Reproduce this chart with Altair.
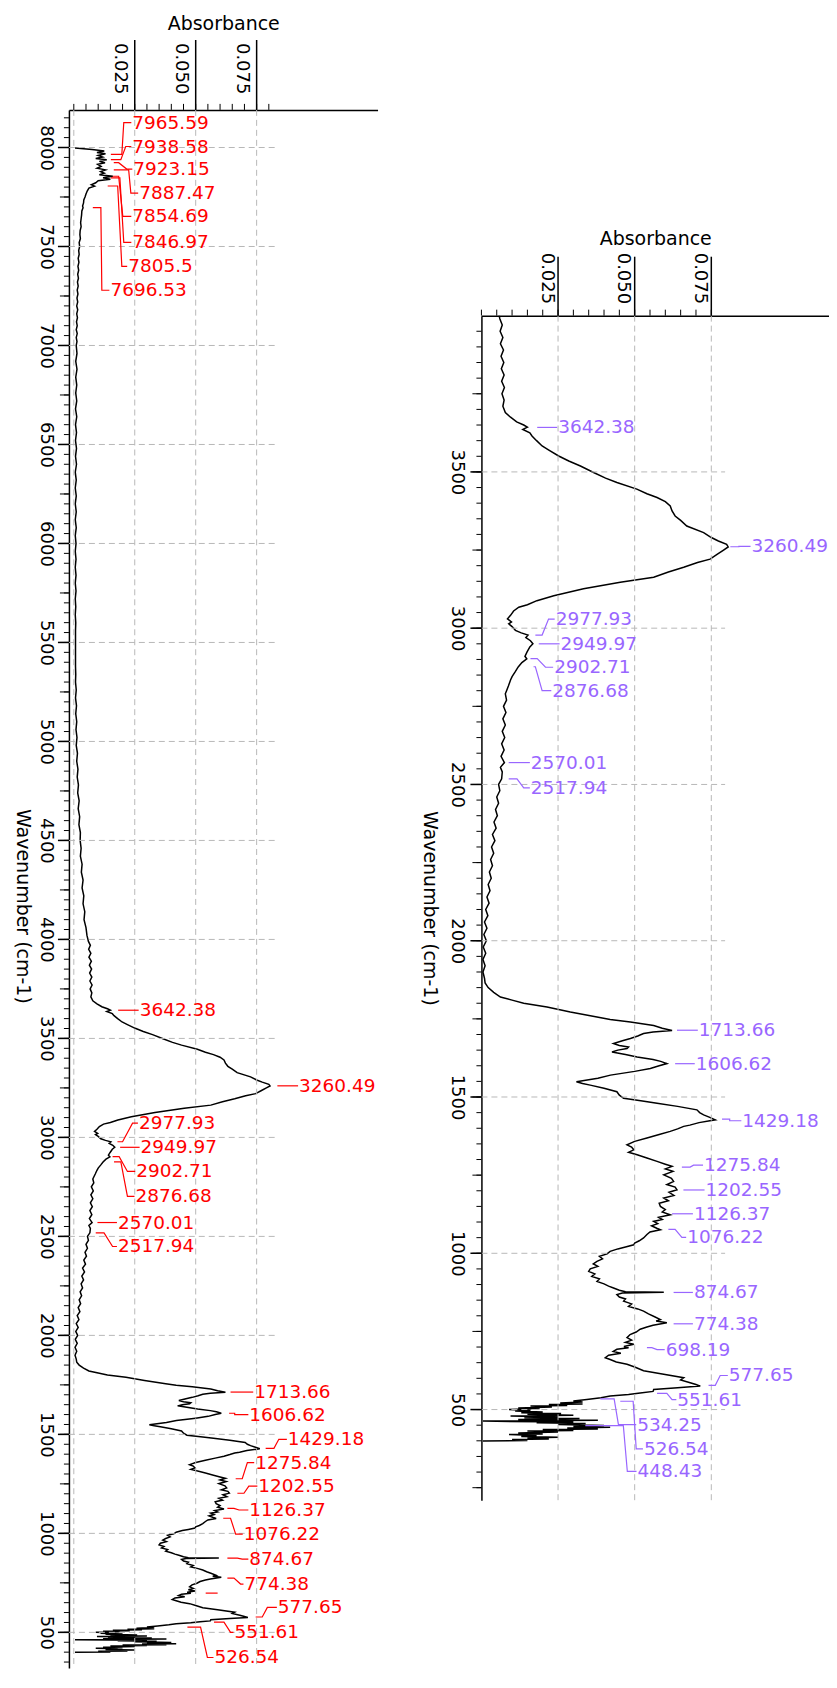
import altair as alt
import pandas as pd

FONT = "DejaVu Sans"
RED = "#FF0000"
PURPLE = "#9966FF"
GRID = "#B8B8B8"

# ---------------- spectrum (wavenumber, absorbance) ----------------
WAVE = [
    7998, 7990, 7982, 7975, 7968, 7960, 7952, 7945, 7938, 7930,
    7923, 7915, 7905, 7895, 7887, 7878, 7870, 7862, 7855, 7847,
    7840, 7832, 7822, 7812, 7805, 7795, 7780, 7765, 7750, 7735,
    7720, 7705, 7696, 7680, 7660, 7640, 7620, 7600, 7580, 7560,
    7540, 7520, 7500, 7480, 7460, 7440, 7420, 7400, 7380, 7360,
    7340, 7320, 7300, 7280, 7260, 7240, 7220, 7200, 7180, 7160,
    7140, 7120, 7100, 7080, 7060, 7040, 7020, 7000, 6960, 6920,
    6880, 6840, 6800, 6760, 6720, 6680, 6640, 6600, 6560, 6520,
    6480, 6440, 6400, 6360, 6320, 6280, 6240, 6200, 6160, 6120,
    6080, 6040, 6000, 5960, 5920, 5880, 5840, 5800, 5760, 5720,
    5680, 5640, 5600, 5560, 5500, 5440, 5380, 5340, 5300, 5260,
    5220, 5180, 5140, 5100, 5060, 5020, 4980, 4940, 4900, 4860,
    4820, 4780, 4740, 4700, 4660, 4620, 4580, 4540, 4500, 4460,
    4420, 4380, 4340, 4300, 4260, 4220, 4180, 4140, 4100, 4060,
    4020, 3990, 3970, 3950, 3930, 3910, 3890, 3870, 3850, 3830,
    3810, 3790, 3770, 3750, 3730, 3710, 3690, 3675, 3660, 3650,
    3643, 3636, 3625, 3615, 3600, 3583, 3570, 3551, 3535, 3519,
    3498, 3480, 3466, 3445, 3430, 3418, 3405, 3391, 3375, 3359,
    3345, 3327, 3306, 3290, 3279, 3268, 3260, 3250, 3237, 3221,
    3210, 3195, 3180, 3163, 3147, 3126, 3104, 3088, 3075, 3067,
    3055, 3041, 3030, 3020, 3014, 3005, 2993, 2985, 2978, 2970,
    2960, 2950, 2940, 2924, 2910, 2902, 2890, 2876, 2860, 2845,
    2834, 2815, 2800, 2790, 2770, 2750, 2730, 2710, 2690, 2670,
    2650, 2630, 2610, 2590, 2570, 2555, 2540, 2518, 2500, 2480,
    2460, 2440, 2420, 2400, 2380, 2360, 2340, 2320, 2300, 2280,
    2260, 2240, 2220, 2200, 2180, 2160, 2140, 2120, 2100, 2080,
    2060, 2040, 2020, 2000, 1980, 1960, 1940, 1920, 1900, 1880,
    1865, 1850, 1835, 1820, 1810, 1800, 1788, 1772, 1756, 1748,
    1740, 1729, 1720, 1713, 1708, 1703, 1695, 1687, 1680, 1671,
    1665, 1660, 1655, 1650, 1644, 1636, 1628, 1620, 1614, 1607,
    1600, 1591, 1582, 1570, 1560, 1549, 1543, 1538, 1528, 1517,
    1506, 1496, 1488, 1480, 1470, 1459, 1450, 1443, 1435, 1427,
    1418, 1410, 1406, 1398, 1390, 1380, 1369, 1358, 1347, 1340,
    1331, 1323, 1315, 1305, 1294, 1285, 1278, 1270, 1262, 1251,
    1240, 1230, 1220, 1212, 1203, 1195, 1185, 1177, 1168, 1160,
    1150, 1140, 1132, 1123, 1115, 1108, 1102, 1095, 1088, 1080,
    1075, 1068, 1060, 1049, 1040, 1033, 1027, 1020, 1014, 1006,
    998, 990, 982, 974, 966, 958, 950, 942, 934, 926,
    918, 910, 902, 895, 889, 882, 877, 875, 873, 868,
    860, 854, 847, 838, 830, 822, 815, 806, 797, 788,
    783, 778, 770, 764, 757, 748, 740, 730, 722, 715,
    709, 702, 698, 693, 686, 680, 674, 666, 660, 652,
    645, 636, 624, 614, 602, 595, 586, 580, 575, 570,
    564, 558, 553, 548, 543, 538, 532, 527, 524, 521,
    518, 516, 513, 511, 508, 505, 503, 500, 497, 495,
    492, 490, 487, 485, 482, 479, 476, 474, 471, 468,
    466, 463, 460, 458, 455, 452, 449, 446, 443, 441,
    438, 436, 433, 431, 428, 425, 422, 420, 417, 414,
    411, 409, 406, 404, 401, 399,
]
ABS = [
    .0005, .0075, .0125, .0095, .0130, .0100, .0118, .0090, .0135, .0105,
    .0128, .0098, .0112, .0095, .0130, .0110, .0125, .0105, .0160, .0120,
    .0150, .0100, .0090, .0072, .0085, .0062, .0055, .0050, .0046, .0041,
    .0040, .0036, .0038, .0033, .0032, .0030, .0028, .0030, .0026, .0025,
    .0027, .0022, .0024, .0020, .0022, .0018, .0021, .0017, .0020, .0016,
    .0019, .0015, .0018, .0014, .0017, .0013, .0016, .0012, .0016, .0012,
    .0015, .0011, .0014, .0010, .0014, .0010, .0013, .0010, .0013, .0008,
    .0013, .0008, .0012, .0008, .0012, .0007, .0012, .0007, .0011, .0007,
    .0011, .0007, .0011, .0006, .0010, .0006, .0010, .0006, .0010, .0006,
    .0010, .0006, .0009, .0006, .0009, .0006, .0009, .0006, .0009, .0006,
    .0008, .0006, .0008, .0007, .0007, .0007, .0007, .0008, .0007, .0010,
    .0007, .0011, .0008, .0012, .0009, .0013, .0010, .0015, .0012, .0017,
    .0014, .0019, .0016, .0022, .0018, .0024, .0021, .0027, .0026, .0030,
    .0027, .0034, .0031, .0038, .0034, .0041, .0038, .0045, .0042, .0050,
    .0054, .0060, .0068, .0061, .0070, .0062, .0072, .0064, .0073, .0065,
    .0074, .0066, .0075, .0067, .0074, .0070, .0078, .0095, .0115, .0138,
    .0150, .0135, .0158, .0165, .0180, .0198, .0220, .0252, .0285, .0323,
    .0366, .0405, .0442, .0507, .0540, .0573, .0600, .0616, .0622, .0632,
    .0650, .0670, .0725, .0750, .0773, .0800, .0805, .0790, .0770, .0746,
    .0705, .0660, .0610, .0562, .0453, .0333, .0236, .0181, .0150, .0122,
    .0105, .0095, .0085, .0098, .0089, .0100, .0111, .0130, .0152, .0145,
    .0160, .0168, .0158, .0149, .0142, .0148, .0132, .0120, .0110, .0100,
    .0095, .0088, .0082, .0078, .0082, .0072, .0080, .0070, .0078, .0068,
    .0076, .0066, .0074, .0064, .0075, .0062, .0068, .0066, .0056, .0060,
    .0050, .0056, .0046, .0052, .0041, .0048, .0036, .0044, .0033, .0040,
    .0030, .0036, .0026, .0032, .0022, .0028, .0018, .0025, .0014, .0021,
    .0010, .0018, .0008, .0016, .0006, .0014, .0005, .0012, .0005, .0010,
    .0012, .0022, .0040, .0062, .0100, .0138, .0214, .0290, .0377, .0420,
    .0486, .0562, .0590, .0622, .0560, .0529, .0510, .0486, .0460, .0431,
    .0450, .0480, .0475, .0445, .0426, .0470, .0508, .0560, .0585, .0605,
    .0580, .0551, .0500, .0421, .0380, .0310, .0330, .0355, .0400, .0442,
    .0450, .0464, .0520, .0573, .0640, .0703, .0712, .0725, .0745, .0763,
    .0710, .0680, .0660, .0640, .0616, .0580, .0540, .0500, .0475, .0490,
    .0497, .0480, .0508, .0540, .0573, .0600, .0622, .0600, .0625, .0595,
    .0620, .0627, .0605, .0632, .0638, .0612, .0628, .0595, .0610, .0580,
    .0584, .0600, .0590, .0616, .0578, .0590, .0562, .0575, .0555, .0572,
    .0584, .0550, .0540, .0529, .0515, .0500, .0497, .0470, .0445, .0420,
    .0410, .0385, .0395, .0377, .0365, .0380, .0355, .0350, .0370, .0360,
    .0385, .0377, .0400, .0415, .0431, .0450, .0470, .0595, .0460, .0442,
    .0450, .0470, .0464, .0490, .0480, .0510, .0529, .0545, .0565, .0584,
    .0570, .0605, .0560, .0540, .0518, .0505, .0485, .0475, .0490, .0470,
    .0497, .0465, .0480, .0442, .0430, .0455, .0415, .0404, .0420, .0440,
    .0475, .0500, .0529, .0590, .0660, .0650, .0681, .0700, .0714, .0640,
    .0562, .0560, .0518, .0480, .0420, .0390, .0344, .0300, .0330, .0257,
    .0330, .0220, .0280, .0160, .0230, .0120, .0190, .0090, .0160, .0110,
    .0200, .0130, .0260, .0150, .0300, .0095, .0250, .0140, .0320, .0120,
    .0380, .0005, .0300, .0180, .0340, .0250, .0400, .0300, .0420, .0280,
    .0380, .0200, .0300, .0150, .0250, .0120, .0200, .0090, .0180, .0130,
    .0250, .0150, .0220, .0100, .0150, .0005,
]
assert len(WAVE) == len(ABS)

# ---------------- left panel peak labels (red) ----------------
L_TEXT = ["7965.59", "7938.58", "7923.15", "7887.47", "7854.69", "7846.97", "7805.5", "7696.53",
          "3642.38", "3260.49", "2977.93", "2949.97", "2902.71", "2876.68", "2570.01", "2517.94",
          "1713.66", "1606.62", "1429.18", "1275.84", "1202.55", "1126.37", "1076.22", "874.67",
          "774.38", "", "577.65", "551.61", "526.54"]
L_PEAK = [7965.59, 7938.58, 7923.15, 7887.47, 7854.69, 7846.97, 7805.5, 7696.53,
          3642.38, 3260.49, 2977.93, 2949.97, 2902.71, 2876.68, 2570.01, 2517.94,
          1713.66, 1606.62, 1429.18, 1275.84, 1202.55, 1126.37, 1076.22, 874.67,
          774.38, 698.19, 577.65, 551.61, 526.54]
L_ROW = [8126, 8005, 7891, 7770, 7652, 7521, 7400, 7279,
         3642.38, 3260.49, 3072, 2949.97, 2828, 2702, 2570.01, 2449,
         1713.66, 1600, 1475, 1357, 1239, 1118, 996, 870,
         744, 698.19, 626, 500, 373]
L_A0 = [0.0152, 0.0152, 0.0164, 0.0164, 0.0160, 0.0152, 0.0139, 0.0078,
        0.0182, 0.0835, 0.0179, 0.0190, 0.0159, 0.0165, 0.0097, 0.0090,
        0.0643, 0.0637, 0.0787, 0.0664, 0.0671, 0.0630, 0.0613, 0.0630,
        0.0630, 0.0541, 0.0746, 0.0575, 0.0466]
L_A1 = [0.0197, 0.0193, 0.0184, 0.0225, 0.0184, 0.0189, 0.0180, 0.0111,
        0.0200, 0.0870, 0.0200, 0.0210, 0.0186, 0.0193, 0.0120, 0.0124,
        0.0660, 0.0660, 0.0821, 0.0691, 0.0698, 0.0657, 0.0643, 0.0671,
        0.0657, 0.0570, 0.0773, 0.0616, 0.0520]
L_A2 = [0.0205, 0.0213, 0.0217, 0.0234, 0.0201, 0.0205, 0.0197, 0.0115,
        0.0200, 0.0870, 0.0241, 0.0210, 0.0220, 0.0220, 0.0120, 0.0159,
        0.0660, 0.0660, 0.0841, 0.0712, 0.0718, 0.0678, 0.0664, 0.0691,
        0.0684, 0.0570, 0.0794, 0.0643, 0.0548]
L_A3 = [0.0236, 0.0236, 0.0240, 0.0264, 0.0236, 0.0236, 0.0219, 0.0146,
        0.0266, 0.0920, 0.0263, 0.0270, 0.0252, 0.0249, 0.0177, 0.0177,
        0.0736, 0.0716, 0.0874, 0.0740, 0.0753, 0.0716, 0.0693, 0.0716,
        0.0696, 0.0590, 0.0833, 0.0655, 0.0573]

# ---------------- right panel peak labels (purple) ----------------
R_TEXT = ["3642.38", "3260.49", "2977.93", "2949.97", "2902.71", "2876.68", "2570.01", "2517.94",
          "1713.66", "1606.62", "1429.18", "1275.84", "1202.55", "1126.37", "1076.22", "874.67",
          "774.38", "698.19", "577.65", "551.61", "534.25", "526.54", "448.43"]
R_PEAK = [3642.38, 3260.49, 2977.93, 2949.97, 2902.71, 2876.68, 2570.01, 2517.94,
          1713.66, 1606.62, 1429.18, 1275.84, 1202.55, 1126.37, 1076.22, 874.67,
          774.38, 698.19, 577.65, 551.61, 534.25, 526.54, 448.43]
R_ROW = [3642.38, 3262, 3029, 2949.97, 2875, 2800, 2570.01, 2489,
         1713.66, 1606.62, 1424, 1282, 1202.55, 1126.37, 1051, 874.67,
         774.38, 692, 609, 532, 452, 374, 302]
R_A0 = [0.0182, 0.0812, 0.0176, 0.0187, 0.0160, 0.0170, 0.0089, 0.0089,
        0.0638, 0.0632, 0.0785, 0.0654, 0.0659, 0.0622, 0.0610, 0.0627,
        0.0627, 0.0540, 0.0741, 0.0573, 0.0388, 0.0453, 0.0339]
R_A1 = [0.0210, 0.0840, 0.0198, 0.0210, 0.0182, 0.0176, 0.0110, 0.0116,
        0.0660, 0.0655, 0.0810, 0.0681, 0.0680, 0.0640, 0.0632, 0.0650,
        0.0650, 0.0556, 0.0763, 0.0605, 0.0433, 0.0495, 0.0463]
R_A2 = [0.0210, 0.0840, 0.0219, 0.0210, 0.0209, 0.0198, 0.0110, 0.0138,
        0.0660, 0.0655, 0.0810, 0.0692, 0.0680, 0.0640, 0.0654, 0.0650,
        0.0650, 0.0573, 0.0779, 0.0622, 0.0447, 0.0505, 0.0476]
R_A3 = [0.0247, 0.0878, 0.0239, 0.0255, 0.0234, 0.0228, 0.0158, 0.0158,
        0.0706, 0.0696, 0.0848, 0.0723, 0.0728, 0.0690, 0.0668, 0.0690,
        0.0690, 0.0598, 0.0804, 0.0636, 0.0505, 0.0527, 0.0506]

# ---------------- axes / ticks ----------------
X_LABELS = [0.025, 0.05, 0.075]
L_XMINOR = [round(0.005 * i, 3) for i in range(17)]
R_XMINOR = [round(0.005 * i, 3) for i in range(16)]
L_YLAB = list(range(500, 8001, 500))
R_YLAB = list(range(500, 3501, 500))
L_VGRID = [0.0, 0.025, 0.05, 0.075]
R_VGRID = [0.025, 0.05, 0.075]


def leader_frame(peak, row, a0, a1, a2, a3):
    rows = []
    for i in range(len(peak)):
        pts = [(a0[i], peak[i]), (a1[i], peak[i]), (a2[i], row[i]), (a3[i], row[i])]
        for k, (a, w) in enumerate(pts):
            rows.append({"id": i, "k": k, "a": a, "w": w})
    return pd.DataFrame(rows)


def panel(xdom, ydom, width, height, xminor, ylab, vgrid, grid_end, ann, color,
          major_len, xlab_pad, xlab_off, xtitle_pad, ylab_pad, ytitle_pad, ytitle_y=None):
    xs = alt.Scale(domain=xdom, nice=False, zero=False)
    ys = alt.Scale(domain=ydom, nice=False, zero=False)
    texts, peak, row, a0, a1, a2, a3 = ann

    ykw = dict(
        orient="left", values=ylab, format="d", ticks=False, tickSize=0, grid=False,
        domainColor="black", domainWidth=1.5, labelAngle=90, labelAlign="center",
        labelBaseline="top", labelPadding=ylab_pad, labelFont=FONT, labelFontSize=18,
        labelColor="black", labelOverlap=False, title="Wavenumber (cm-1)", titleAngle=90,
        titleBaseline="top", titlePadding=ytitle_pad, titleFont=FONT, titleFontSize=19,
        titleFontWeight="normal", titleColor="black",
    )
    if ytitle_y is not None:
        ykw["titleY"] = ytitle_y
    xaxis = alt.Axis(
        orient="top", values=X_LABELS, format=".3f", ticks=False, tickSize=0, grid=False,
        domainColor="black", domainWidth=1.5, labelAngle=90, labelAlign="right",
        labelBaseline="top", labelPadding=xlab_pad, labelOffset=xlab_off, labelFont=FONT,
        labelFontSize=18, labelColor="black", labelOverlap=False, title="Absorbance",
        titlePadding=xtitle_pad, titleFont=FONT, titleFontSize=19, titleFontWeight="normal",
        titleColor="black")
    yaxis = alt.Axis(**ykw)

    def X(f):
        return alt.X(f, scale=xs, axis=xaxis)

    def Y(f):
        return alt.Y(f, scale=ys, axis=yaxis)

    curve = alt.Chart(pd.DataFrame({"w": WAVE, "a": ABS})).mark_line(
        color="black", strokeWidth=1.5, clip=True
    ).encode(x=X("a:Q"), y=Y("w:Q"), order=alt.Order("w:Q", sort="descending"))

    vg = alt.Chart(pd.DataFrame({"g": vgrid})).mark_rule(
        color=GRID, strokeDash=[6, 4], strokeWidth=1
    ).encode(x=X("g:Q"))

    hg_df = pd.DataFrame({"g": ylab, "x0": [xdom[0]] * len(ylab), "x1": [grid_end] * len(ylab)})
    hg = alt.Chart(hg_df).mark_rule(color=GRID, strokeDash=[6, 4], strokeWidth=1).encode(
        y=Y("g:Q"), x=X("x0:Q"), x2="x1:Q")

    xt = alt.Chart(pd.DataFrame({"t": xminor})).mark_rule(color="black", strokeWidth=1).encode(
        x=X("t:Q"), y=alt.value(0), y2=alt.value(-6))
    xT = alt.Chart(pd.DataFrame({"t": X_LABELS})).mark_rule(color="black", strokeWidth=1.5).encode(
        x=X("t:Q"), y=alt.value(0), y2=alt.value(-major_len))

    lo = int((ydom[0] // 50 + 1) * 50)
    ymin = list(range(lo, int(ydom[1]), 50))
    ymid = [v for v in ymin if v % 250 == 0]
    ymaj = [v for v in ymin if v % 500 == 0]
    yt1 = alt.Chart(pd.DataFrame({"t": ymin})).mark_rule(color="black", strokeWidth=1).encode(
        y=Y("t:Q"), x=alt.value(0), x2=alt.value(-5))
    yt2 = alt.Chart(pd.DataFrame({"t": ymid})).mark_rule(color="black", strokeWidth=1).encode(
        y=Y("t:Q"), x=alt.value(0), x2=alt.value(-9))
    yt3 = alt.Chart(pd.DataFrame({"t": ymaj})).mark_rule(color="black", strokeWidth=1.5).encode(
        y=Y("t:Q"), x=alt.value(0), x2=alt.value(-11))

    lead = alt.Chart(leader_frame(peak, row, a0, a1, a2, a3)).mark_line(
        color=color, strokeWidth=1.2
    ).encode(x=X("a:Q"), y=Y("w:Q"), detail="id:N", order="k:Q")
    lab = alt.Chart(pd.DataFrame({"txt": texts, "a": a3, "w": row})).mark_text(
        align="left", baseline="middle", dx=1, font=FONT, fontSize=18.5, color=color
    ).encode(x=X("a:Q"), y=Y("w:Q"), text="txt:N")

    return alt.layer(curve, vg, hg, xt, xT, yt1, yt2, yt3, lead, lab).properties(
        width=width, height=height)


left = panel(
    [-0.002, 0.1246], [320, 8190], 309, 1560, L_XMINOR, L_YLAB, L_VGRID, 0.084,
    (L_TEXT, L_PEAK, L_ROW, L_A0, L_A1, L_A2, L_A3), RED,
    major_len=70, xlab_pad=16, xlab_off=-6, xtitle_pad=9, ylab_pad=14, ytitle_pad=5,
    ytitle_y=797,
)
right = panel(
    [0.0, 0.1134], [210, 4000], 348, 1186, R_XMINOR, R_YLAB, R_VGRID, 0.0795,
    (R_TEXT, R_PEAK, R_ROW, R_A0, R_A1, R_A2, R_A3), PURPLE,
    major_len=59, xlab_pad=12, xlab_off=-3, xtitle_pad=4, ylab_pad=16, ytitle_pad=9,
)

spacer = alt.Chart(pd.DataFrame({"s": [0]})).mark_point(opacity=0).encode(
    x=alt.value(0), y=alt.value(0)).properties(width=1, height=119)

chart = alt.hconcat(
    left, alt.vconcat(spacer, right, spacing=0), spacing=42
).properties(
    padding={"left": 5, "top": 5, "right": 0, "bottom": 0}
).configure_view(stroke=None)

chart.save("out.html", embed_options={"renderer": "svg", "actions": False})
